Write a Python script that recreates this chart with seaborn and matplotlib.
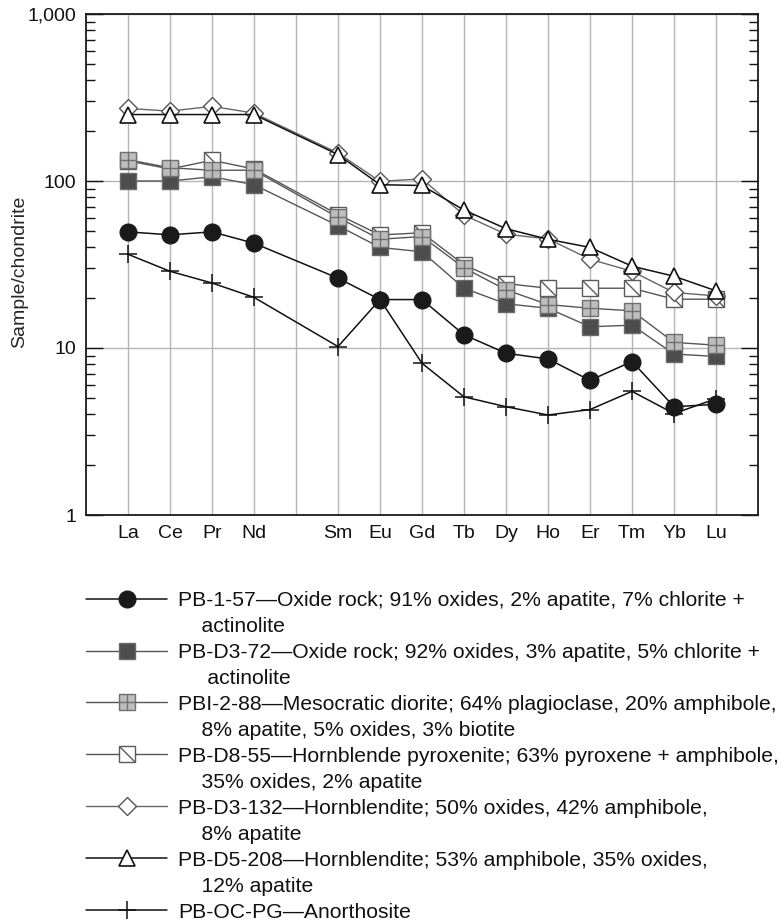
import numpy as np
import pandas as pd
import matplotlib
matplotlib.use("Agg")
import matplotlib.pyplot as plt
from matplotlib.lines import Line2D
from matplotlib.path import Path
from matplotlib.ticker import LogLocator, NullFormatter
import seaborn as sns

# ---------------- data ----------------
axis_slots = ["La", "Ce", "Pr", "Nd", "Pm", "Sm", "Eu", "Gd", "Tb", "Dy", "Ho", "Er", "Tm", "Yb", "Lu"]
slot_labels = ["La", "Ce", "Pr", "Nd", "", "Sm", "Eu", "Gd", "Tb", "Dy", "Ho", "Er", "Tm", "Yb", "Lu"]
elements = ["La", "Ce", "Pr", "Nd", "Sm", "Eu", "Gd", "Tb", "Dy", "Ho", "Er", "Tm", "Yb", "Lu"]

pb_1_57   = [49.6, 47.6, 49.6, 42.4, 26.2, 19.5, 19.5, 12.0, 9.3, 8.6, 6.4, 8.3, 4.45, 4.6]
pb_d3_72  = [100, 100, 106, 95, 54, 40, 37.7, 22.8, 18.4, 17.3, 13.4, 13.7, 9.2, 8.9]
pbi_2_88  = [134, 120, 116, 116, 60.5, 44.8, 46.5, 30.2, 22.3, 18.2, 17.3, 16.7, 10.8, 10.4]
pb_d8_55  = [132, 118, 133, 118, 63, 47.5, 49, 31.5, 24.3, 22.8, 22.8, 22.8, 19.6, 19.6]
pb_d3_132 = [272, 262, 280, 255, 147, 99.5, 103, 62.5, 48, 45, 34, 28.8, 21.5, 20.5]
pb_d5_208 = [250, 250, 250, 250, 144, 95, 94, 67, 51.8, 44.8, 40, 30.9, 26.9, 22]
pb_oc_pg  = [36.4, 28.8, 24.5, 20.1, 10.2, 19.5, 8.1, 5.1, 4.45, 3.97, 4.28, 5.5, 4.05, 4.97]

legend_lines = {
    "pb_1_57": ["PB-1-57\u2014Oxide rock; 91% oxides, 2% apatite, 7% chlorite +", "actinolite"],
    "pb_d3_72": ["PB-D3-72\u2014Oxide rock; 92% oxides, 3% apatite, 5% chlorite +", " actinolite"],
    "pbi_2_88": ["PBI-2-88\u2014Mesocratic diorite; 64% plagioclase, 20% amphibole,", "8% apatite, 5% oxides, 3% biotite"],
    "pb_d8_55": ["PB-D8-55\u2014Hornblende pyroxenite; 63% pyroxene + amphibole,", "35% oxides, 2% apatite"],
    "pb_d3_132": ["PB-D3-132\u2014Hornblendite; 50% oxides, 42% amphibole,", "8% apatite"],
    "pb_d5_208": ["PB-D5-208\u2014Hornblendite; 53% amphibole, 35% oxides,", "12% apatite"],
    "pb_oc_pg": ["PB-OC-PG\u2014Anorthosite"],
}
legend_order = ["pb_1_57", "pb_d3_72", "pbi_2_88", "pb_d8_55", "pb_d3_132", "pb_d5_208", "pb_oc_pg"]

# ---------------- style ----------------
sns.set_style("white")
plt.rcParams["font.family"] = ["Liberation Sans", "DejaVu Sans"]

fig = plt.figure(figsize=(7.84, 9.22), dpi=100)
ax = fig.add_axes([86 / 784, 1 - 515 / 922, (758 - 86) / 784, (515 - 14) / 922])

xpos = [axis_slots.index(e) for e in elements]

slash = Path([(-1, 1), (1, -1)], [Path.MOVETO, Path.LINETO])

# name: data, line color, line width, marker, size, face, edge, mew, overlay, zorder
series = {
    "pb_oc_pg": (pb_oc_pg, "#111111", 1.1, "+", 13, "none", "#111111", 1.1, None, 3),
    "pb_1_57": (pb_1_57, "#111111", 1.1, "o", 12, "#1a1a1a", "#1a1a1a", 1.0, None, 4),
    "pb_d3_72": (pb_d3_72, "#555555", 1.0, "s", 11.5, "#4d4d4d", "#6a6a6a", 1.0, None, 5),
    "pb_d8_55": (pb_d8_55, "#555555", 1.0, "s", 11.5, "white", "#5a5a5a", 1.0, slash, 6),
    "pbi_2_88": (pbi_2_88, "#555555", 1.0, "s", 11.5, "#bdbdbd", "#707070", 1.0, "+", 7),
    "pb_d3_132": (pb_d3_132, "#666666", 1.0, "D", 9, "white", "#555555", 1.0, None, 8),
    "pb_d5_208": (pb_d5_208, "#111111", 1.1, "^", 12, "white", "#111111", 1.2, None, 9),
}

handles = {}
for name, (data, lc, lw, mk, ms, fc, ec, mew, over, z) in series.items():
    df = pd.DataFrame({"x": xpos, "y": data})
    sns.lineplot(data=df, x="x", y="y", ax=ax, color=lc, linewidth=lw,
                 marker=mk, markersize=ms, markerfacecolor=fc,
                 markeredgecolor=ec, markeredgewidth=mew, zorder=z,
                 legend=False, estimator=None, sort=False)
    h = Line2D([], [], color=lc, linewidth=lw, marker=mk, markersize=ms,
               markerfacecolor=fc, markeredgecolor=ec, markeredgewidth=mew)
    if over is not None:
        sns.lineplot(data=df, x="x", y="y", ax=ax, linestyle="none",
                     marker=over, markersize=ms, markerfacecolor="none",
                     markeredgecolor=ec, markeredgewidth=1.0, zorder=z + 0.1,
                     legend=False, estimator=None, sort=False)
        h2 = Line2D([], [], linestyle="none", marker=over, markersize=ms,
                    markerfacecolor="none", markeredgecolor=ec, markeredgewidth=1.0)
        h = (h, h2)
    handles[name] = h

# ---------------- axes ----------------
ax.set_yscale("log")
ax.set_ylim(1, 1000)
ax.set_xlim(-1, 15)
ax.set_xticks(range(len(axis_slots)))
ax.set_xticklabels(slot_labels)
ax.set_yticks([1, 10, 100, 1000])
ax.set_yticklabels(["1", "10", "100", "1,000"])
ax.yaxis.set_minor_locator(LogLocator(base=10, subs=np.arange(2, 10)))
ax.yaxis.set_minor_formatter(NullFormatter())
ax.set_xlabel("")
ax.set_ylabel("Sample/chondrite", fontsize=14)
ax.yaxis.set_label_coords((28 - 86) / 672, (515 - 272) / 501)

ax.grid(True, axis="x", which="major", color="#b5b5b5", linewidth=1.0, zorder=0)
ax.grid(True, axis="y", which="major", color="#b5b5b5", linewidth=1.0, zorder=0)
ax.set_axisbelow(True)

ax.tick_params(axis="x", which="both", length=0, labelsize=14, pad=7, colors="#111111")
ax.tick_params(axis="y", which="major", direction="in", length=12, width=1.0,
               left=True, right=True, labelsize=14, pad=7, colors="#111111")
ax.tick_params(axis="y", which="minor", direction="in", length=6.5, width=1.0,
               left=True, right=True, colors="#111111")
for s in ax.spines.values():
    s.set_color("#1a1a1a")
    s.set_linewidth(1.3)

# ---------------- legend ----------------
blank = Line2D([], [], linestyle="none")
leg_handles, leg_labels = [], []
for name in legend_order:
    lines = legend_lines[name]
    leg_handles.append(handles[name])
    leg_labels.append(lines[0])
    for extra in lines[1:]:
        leg_handles.append(blank)
        leg_labels.append("    " + extra)

leg = fig.legend(leg_handles, leg_labels, loc="upper left",
                 bbox_to_anchor=(86 / 784, 1 - 591 / 922),
                 frameon=False, fontsize=15.2, handlelength=3.85,
                 handletextpad=0.5, labelspacing=0.33, borderpad=0,
                 borderaxespad=0)
for t in leg.get_texts():
    t.set_color("#111111")

fig.savefig("out.png", dpi=100)
